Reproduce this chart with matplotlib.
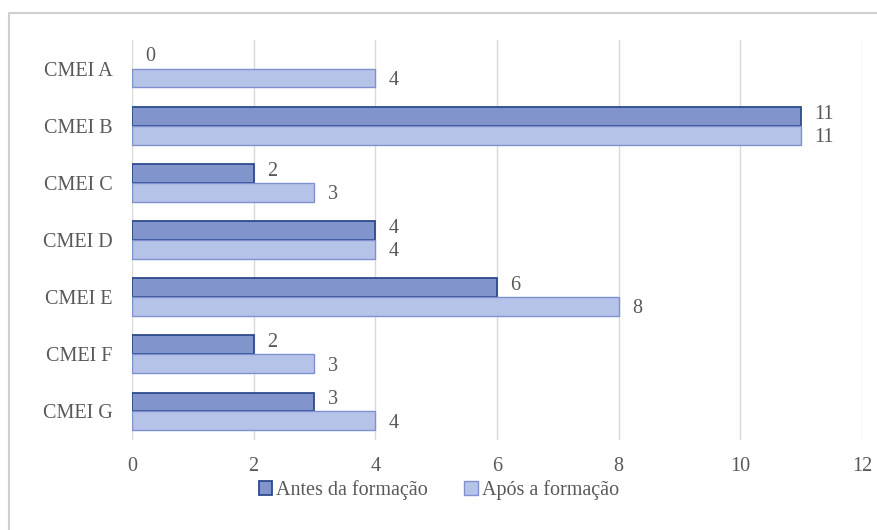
import matplotlib.pyplot as plt
import matplotlib.patches as mpatches
import numpy as np

categorias = ['CMEI A', 'CMEI B', 'CMEI C', 'CMEI D', 'CMEI E', 'CMEI F', 'CMEI G']
antes = [0, 11, 2, 4, 6, 2, 3]
apos = [4, 11, 3, 4, 8, 3, 4]
series = ['Antes da formação', 'Após a formação']

plt.rcParams['font.family'] = ['Liberation Serif', 'DejaVu Serif']
cinza = '#595959'
fs = 14.5
cor_antes, borda_antes = '#8194cc', '#2c4a8c'
cor_apos, borda_apos = '#b6c3e8', '#7e90d0'

fig = plt.figure(figsize=(8.78, 5.30), dpi=100)
ax = fig.add_axes([0.1503, 0.1698, 0.8315, 0.7547])

# moldura externa
fig.patches.append(mpatches.Rectangle((9 / 878, -0.01), 1.0, 1 - 13 / 530 + 0.01,
                                      transform=fig.transFigure, fill=False,
                                      edgecolor='#d0d0d0', linewidth=1.5))

y = np.arange(len(categorias))
h = 0.33
b1 = ax.barh(y - h / 2, antes, height=h, color=cor_antes, edgecolor=borda_antes,
             linewidth=1.3, zorder=3)
ax.barh(y + h / 2, apos, height=h, color=cor_apos, edgecolor=borda_apos, linewidth=1.0,
        zorder=3)
for barra, v in zip(b1, antes):
    if v == 0:
        barra.set_linewidth(0)

for i in range(len(categorias)):
    ax.text(antes[i] + 0.22, y[i] - h / 2 - 0.04, str(antes[i]), color=cinza, fontsize=fs,
            va='center', ha='left')
    ax.text(apos[i] + 0.22, y[i] + h / 2 + 0.04, str(apos[i]), color=cinza, fontsize=fs,
            va='center', ha='left')

ax.set_xlim(0, 12)
ax.set_xticks(range(0, 13, 2))
ax.set_ylim(-0.5, len(categorias) - 0.5)
ax.invert_yaxis()
ax.set_yticks(y)
ax.set_yticklabels(categorias)
ax.tick_params(axis='both', length=0, colors=cinza, labelsize=fs)
ax.tick_params(axis='y', pad=14)
ax.tick_params(axis='x', pad=12)
ax.grid(axis='x', color='#d9d9d9', linewidth=1.0, zorder=0)
for s in ax.spines.values():
    s.set_visible(False)

handles = [mpatches.Patch(facecolor=cor_antes, edgecolor=borda_antes, linewidth=1.3),
           mpatches.Patch(facecolor=cor_apos, edgecolor=borda_apos, linewidth=1.0)]
ax.legend(handles, series, loc='center', bbox_to_anchor=(0.5, 1 - 490 / 530),
          bbox_transform=fig.transFigure, ncol=2, frameon=False, fontsize=fs,
          labelcolor=cinza, handlelength=0.65, handleheight=0.65, handletextpad=0.2,
          columnspacing=1.8)

fig.savefig('out.png', dpi=100)
